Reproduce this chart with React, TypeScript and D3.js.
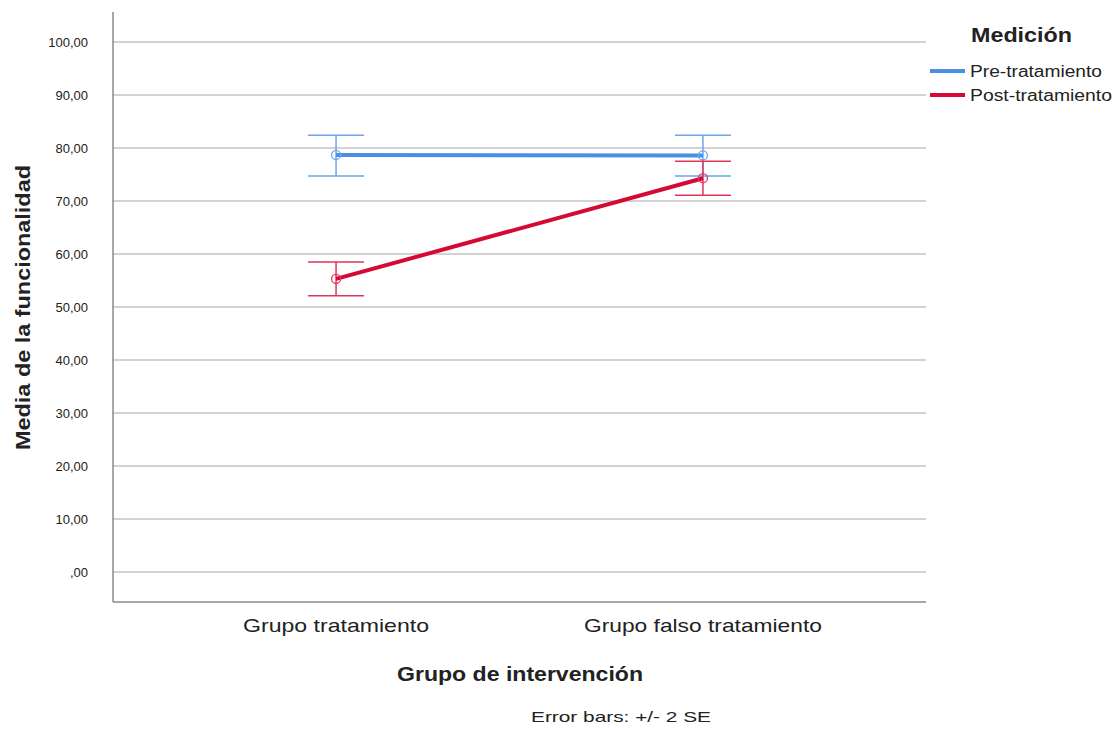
import React from "react";
import * as d3 from "d3";

const categories = ["Grupo tratamiento", "Grupo falso tratamiento"];
const seriesNames = ["Pre-tratamiento", "Post-tratamiento"];
const preMeans = [78.7, 78.6];
const preLower = [74.7, 74.7];
const preUpper = [82.4, 82.4];
const postMeans = [55.3, 74.3];
const postLower = [52.1, 71.1];
const postUpper = [58.5, 77.5];
const yTicks = [0, 10, 20, 30, 40, 50, 60, 70, 80, 90, 100];

const W = 1120, H = 729;
const left = 113, right = 926, top = 12, bottom = 602;

export default function App() {
  const x = d3.scalePoint<string>().domain(categories).range([left, right]).padding(0.608);
  const y = d3.scaleLinear().domain([-5.66, 105.66]).range([bottom, top]);
  const fmt = (v: number) => (v === 0 ? ",00" : v.toFixed(2).replace(".", ","));
  const series = [
    { name: seriesNames[0], m: preMeans, lo: preLower, hi: preUpper, line: "#4A90E2", bar: "#6AA6EA", len: 132 },
    { name: seriesNames[1], m: postMeans, lo: postLower, hi: postUpper, line: "#D40A35", bar: "#E0355C", len: 142 },
  ];
  const catLen = [186, 238];
  const lineGen = d3.line<number>().x((_, i) => x(categories[i])!).y((d) => y(d));
  const font = "Arial, 'Liberation Sans', sans-serif";
  const adj = "spacingAndGlyphs";
  return (
    <svg width={W} height={H} style={{ position: "absolute", left: 0, top: 0, background: "#fff" }} fontFamily={font}>
      <rect width={W} height={H} fill="#fff" />
      {yTicks.map((t) => (
        <g key={t}>
          <line x1={left} x2={right} y1={y(t)} y2={y(t)} stroke="#c4c4c4" strokeWidth={1.3} />
          <text x={88} y={y(t)} dy="0.35em" textAnchor="end" fontSize={13} fill="#222">{fmt(t)}</text>
        </g>
      ))}
      <line x1={left} x2={left} y1={top} y2={bottom} stroke="#8a8a8a" strokeWidth={1.5} />
      <line x1={left} x2={right} y1={bottom} y2={bottom} stroke="#8a8a8a" strokeWidth={1.5} />
      {series.map((s) => (
        <g key={s.name}>
          {s.m.map((v, i) => {
            const cx = x(categories[i])!;
            return (
              <g key={i}>
                <line x1={cx} x2={cx} y1={y(s.lo[i])} y2={y(s.hi[i])} stroke={s.bar} strokeWidth={1.5} />
                <line x1={cx - 28} x2={cx + 28} y1={y(s.lo[i])} y2={y(s.lo[i])} stroke={s.bar} strokeWidth={1.5} />
                <line x1={cx - 28} x2={cx + 28} y1={y(s.hi[i])} y2={y(s.hi[i])} stroke={s.bar} strokeWidth={1.5} />
              </g>
            );
          })}
          <path d={lineGen(s.m)!} fill="none" stroke={s.line} strokeWidth={4} />
          {s.m.map((v, i) => (
            <circle key={i} cx={x(categories[i])!} cy={y(v)} r={4.5} fill="none" stroke={s.bar} strokeWidth={1.3} />
          ))}
        </g>
      ))}
      {categories.map((c, i) => (
        <text key={c} x={x(c)! - catLen[i] / 2} y={632} fontSize={19} fill="#222" textLength={catLen[i]} lengthAdjust={adj}>{c}</text>
      ))}
      <text x={397} y={681} fontSize={20} fontWeight="bold" fill="#222" textLength={246} lengthAdjust={adj}>Grupo de intervención</text>
      <text transform={`translate(30,450) rotate(-90)`} fontSize={20} fontWeight="bold" fill="#222" textLength={285} lengthAdjust={adj}>Media de la funcionalidad</text>
      <text x={531} y={722} fontSize={15} fill="#222" textLength={180} lengthAdjust={adj}>Error bars: +/- 2 SE</text>
      <text x={971} y={42} fontSize={20} fontWeight="bold" fill="#222" textLength={101} lengthAdjust={adj}>Medición</text>
      {series.map((s, i) => (
        <g key={s.name}>
          <line x1={930} x2={965} y1={71 + i * 24} y2={71 + i * 24} stroke={s.line} strokeWidth={4} />
          <text x={970} y={71 + i * 24} dy="0.35em" fontSize={16} fill="#222" textLength={s.len} lengthAdjust={adj}>{s.name}</text>
        </g>
      ))}
    </svg>
  );
}
